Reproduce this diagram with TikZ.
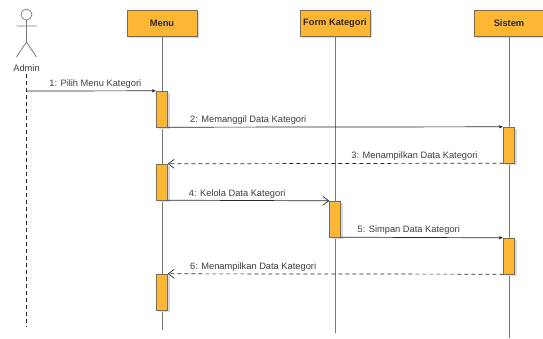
\documentclass[tikz,border=0pt]{standalone}
\usepackage{fontspec}
\setmainfont{Liberation Sans}
\usepackage{tikz}
\usetikzlibrary{arrows.meta,shadows}
\definecolor{white}{RGB}{255,255,255}
\definecolor{box_orange}{RGB}{255,183,51}
\definecolor{box_border}{RGB}{110,110,110}
\definecolor{line_gray}{RGB}{120,120,120}
\definecolor{msg_dark}{RGB}{40,40,40}
\definecolor{text_gray}{RGB}{60,60,60}

\tikzset{
	lifebox/.style={rectangle,draw=box_border,fill=box_orange,minimum width=70pt,minimum height=26pt,inner sep=0pt,font=\fontsize{9.3}{11}\selectfont\bfseries,text=msg_dark,drop shadow={shadow xshift=2pt,shadow yshift=-2pt,fill=black!15,opacity=1}},
	actbox/.style={rectangle,draw=box_border,fill=box_orange,minimum width=11pt,minimum height=36pt,inner sep=0pt,drop shadow={shadow xshift=2pt,shadow yshift=-2pt,fill=black!15,opacity=1}},
	lbl/.style={font=\fontsize{9.3}{11}\selectfont,text=text_gray,inner sep=2pt},
	call/.style={draw=msg_dark,line width=0.7pt,-{Latex[length=4pt,width=3.5pt]}},
	reply/.style={draw=msg_dark,line width=0.7pt,-{Straight Barb[length=6pt,width=9pt]}},
	back/.style={reply,dash pattern=on 4pt off 3pt}
}

\begin{document}
\begin{tikzpicture}[x=1pt,y=-1pt]
	\useasboundingbox (0,0) rectangle (543,338);

	% actor
	\draw[line_gray,line width=0.7pt] (26.5,14.5) circle (5.5);
	\draw[line_gray,line width=0.7pt] (26.5,20) -- (26.5,42) (16.5,26) -- (36.5,26)
		(16.5,57) -- (26.5,42) -- (36.5,57);
	\node[lbl] (admin) at (26.5,68) {Admin};

	% lifeline heads
	\node[lifebox] (menu) at (162,23) {Menu};
	\node[lifebox] (form) at (335,23) {Form Kategori};
	\node[lifebox] (sistem) at (509,23) {Sistem};

	\coordinate (admin_end) at (26.5,326);
	\coordinate (menu_end) at (162,330);
	\coordinate (form_end) at (335,333);
	\coordinate (sistem_end) at (509,338);

	\draw[msg_dark,line width=1.2pt,dash pattern=on 4pt off 3pt] (admin.south) -- (admin_end);
	\foreach \x in {menu,form,sistem}
		\draw[line_gray,line width=0.8pt] (\x.south) -- (\x_end);

	% activations
	\node[actbox] (menu1) at (162,109) {};
	\node[actbox] (sistem1) at (509,145) {};
	\node[actbox] (menu2) at (162,182) {};
	\node[actbox] (form1) at (335,219) {};
	\node[actbox] (sistem2) at (509,256) {};
	\node[actbox] (menu3) at (162,292) {};

	% messages
	\coordinate (admin1) at (26.5,91);
	\draw[call] (admin1) -- node[lbl,pos=0.53,above] {1: Pilih Menu Kategori} (menu1.north west);
	\draw[call] (menu1.south east) -- node[lbl,pos=0.06,anchor=south west] {2: Memanggil Data Kategori} (sistem1.north west);
	\draw[back] (sistem1.south west) -- node[lbl,pos=0.07,anchor=south east] {3: Menampilkan Data Kategori} (menu2.north east);
	\draw[reply] (menu2.south east) -- node[lbl,pos=0.43,above] {4: Kelola Data Kategori} (form1.north west);
	\draw[call] (form1.south east) -- node[lbl,pos=0.09,anchor=south west] {5: Simpan Data Kategori} (sistem2.north west);
	\draw[back] (sistem2.south west) -- node[lbl,pos=0.94,anchor=south west] {6: Menampilkan Data Kategori} (menu3.north east);
\end{tikzpicture}
\end{document}
